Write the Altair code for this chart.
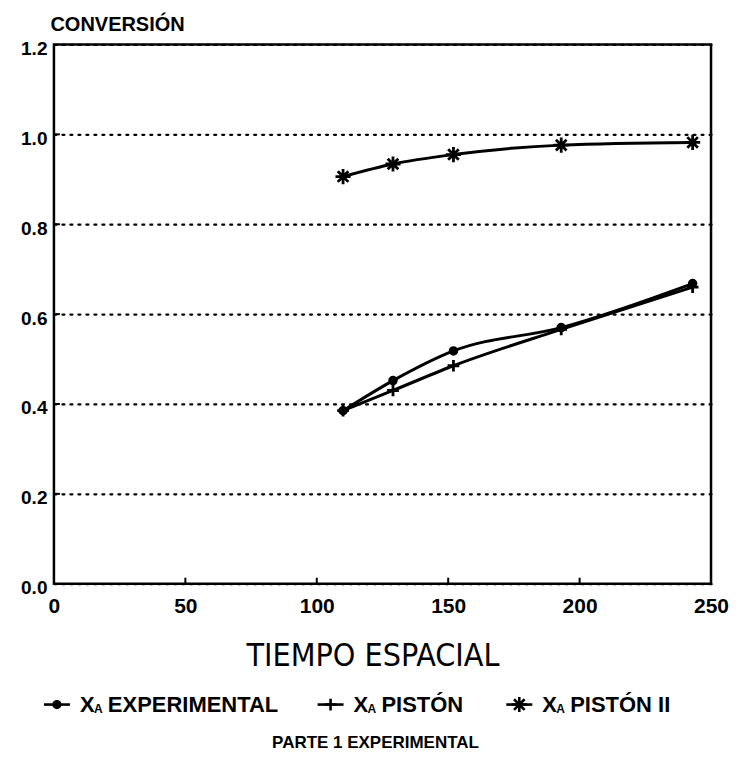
import altair as alt
import pandas as pd

# ---- data ----
tiempo = [110, 129, 152, 193, 243]
xa_experimental = [0.385, 0.452, 0.518, 0.570, 0.668]
xa_piston = [0.385, 0.430, 0.485, 0.566, 0.660]
xa_piston2 = [0.906, 0.934, 0.955, 0.976, 0.982]

series_names = ["EXPERIMENTAL", "PISTÓN", "PISTÓN II"]
x_ticks = [0, 50, 100, 150, 200, 250]
y_ticks = [0.0, 0.2, 0.4, 0.6, 0.8, 1.0, 1.2]

rows = []
for name, vals in zip(series_names, [xa_experimental, xa_piston, xa_piston2]):
    for t, v in zip(tiempo, vals):
        rows.append({"serie": name, "tiempo": t, "conv": v})
df = pd.DataFrame(rows)

W, H = 658, 540
FONT = "Liberation Sans"
NARROW = "'Liberation Sans Narrow', 'DejaVu Sans Condensed', 'Roboto Condensed', 'Liberation Sans'"

CROSS = "M-1,0L1,0M0,-1L0,1"
STAR = "M-1,0L1,0M0,-1L0,1M-0.7,-0.7L0.7,0.7M-0.7,0.7L0.7,-0.7"
shape_scale = alt.Scale(domain=series_names, range=["circle", CROSS, STAR])
size_scale = alt.Scale(domain=series_names, range=[45, 230, 320])

xs = alt.Scale(domain=[0, 250], nice=False)
ys = alt.Scale(domain=[0, 1.2], nice=False)

x_enc = alt.X("tiempo:Q", scale=xs, axis=alt.Axis(
    values=x_ticks, title="TIEMPO ESPACIAL", grid=False, ticks=False, domain=False,
    labelFont=FONT, labelFontWeight="bold", labelFontSize=21, labelColor="black",
    labelPadding=12, labelFlush=False,
    titleFont=NARROW, titleFontWeight="normal", titleFontSize=32,
    titleColor="black", titleX=W / 2 - 10, titleY=82, titleBaseline="alphabetic"))
y_enc = alt.Y("conv:Q", scale=ys, axis=alt.Axis(
    values=y_ticks, format=".1f", title="CONVERSIÓN", grid=True,
    gridDash=[2, 6], gridWidth=2.2, gridColor="black", gridCap="round",
    ticks=False, domain=False,
    labelFont=FONT, labelFontWeight="bold", labelFontSize=19, labelColor="black",
    labelPadding=7, labelOffset=4, labelFlush=False,
    titleAngle=0, titleAlign="left", titleBaseline="alphabetic",
    titleX=-4, titleY=-14, titleFont=FONT, titleFontWeight="bold",
    titleFontSize=20, titleColor="black"))

base = alt.Chart(df)

lines = base.mark_line(color="black", strokeWidth=3, interpolate="monotone").encode(
    x=x_enc, y=y_enc, detail="serie:N")

points = base.mark_point(color="black", strokeWidth=2.8, opacity=1).encode(
    x=alt.X("tiempo:Q", scale=xs),
    y=alt.Y("conv:Q", scale=ys),
    shape=alt.Shape("serie:N", scale=shape_scale, legend=None),
    size=alt.Size("serie:N", scale=size_scale, legend=None),
    fill=alt.condition(alt.datum.serie == "EXPERIMENTAL", alt.value("black"), alt.value("transparent")),
)

# inward tick marks
xt = pd.DataFrame({"t": x_ticks[1:-1]})
yt = pd.DataFrame({"v": y_ticks[1:-1]})
xticks = alt.Chart(xt).mark_rule(color="black", strokeWidth=2).encode(
    x=alt.X("t:Q", scale=xs), y=alt.value(H), y2=alt.value(H - 6))
yticks = alt.Chart(yt).mark_rule(color="black", strokeWidth=2).encode(
    y=alt.Y("v:Q", scale=ys), x=alt.value(0), x2=alt.value(6))

# custom legend below the axis title
LEG_Y = 661
sym_centers = [3, 277, 466]
layers = [lines, points, xticks, yticks]
for name, cx in zip(series_names, sym_centers):
    d = pd.DataFrame({"serie": [name], "rest": [name]})
    c = alt.Chart(d)
    layers.append(c.mark_rule(color="black", strokeWidth=2.6).encode(
        x=alt.value(cx - 13), x2=alt.value(cx + 13), y=alt.value(LEG_Y)))
    layers.append(c.mark_point(color="black", strokeWidth=2.6, opacity=1).encode(
        x=alt.value(cx), y=alt.value(LEG_Y),
        shape=alt.Shape("serie:N", scale=shape_scale, legend=None),
        size=alt.Size("serie:N", scale=size_scale, legend=None),
        fill=alt.condition(alt.datum.serie == "EXPERIMENTAL", alt.value("black"), alt.value("transparent"))))
    layers.append(c.mark_text(text="X", font=FONT, fontWeight="bold", fontSize=22,
                              align="left", baseline="middle", color="black").encode(
        x=alt.value(cx + 23), y=alt.value(LEG_Y)))
    layers.append(c.mark_text(text="A", font=FONT, fontWeight="bold", fontSize=12,
                              align="left", baseline="middle", color="black").encode(
        x=alt.value(cx + 37), y=alt.value(LEG_Y + 4)))
    layers.append(c.mark_text(font=FONT, fontWeight="bold", fontSize=22,
                              align="left", baseline="middle", color="black").encode(
        x=alt.value(cx + 51), y=alt.value(LEG_Y), text="rest:N"))

footer = alt.Chart(pd.DataFrame({"f": ["PARTE 1 EXPERIMENTAL"]})).mark_text(
    font=FONT, fontWeight="bold", fontSize=17, align="center", baseline="middle",
    color="black").encode(x=alt.value(322), y=alt.value(700), text="f:N")
layers.append(footer)

chart = alt.layer(*layers).properties(
    width=W, height=H,
    padding={"left": 12, "top": 6, "right": 0, "bottom": 0},
).configure(background="white").configure_view(stroke="black", strokeWidth=2.5)

chart.save("out.html", embed_options={"renderer": "svg", "actions": False})
